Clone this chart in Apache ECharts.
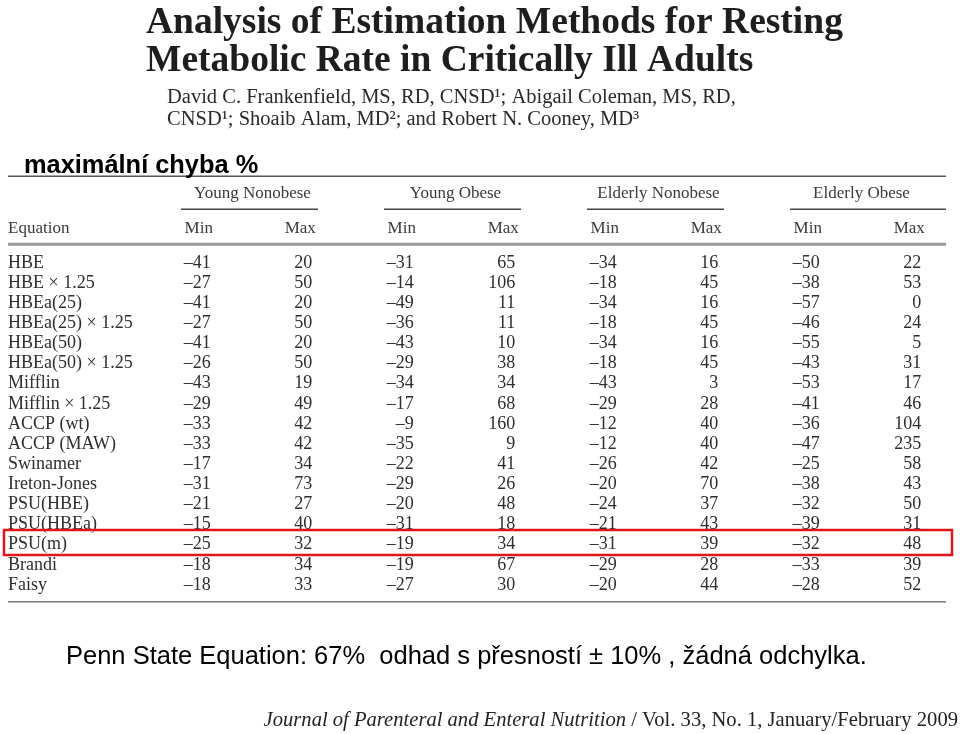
<!DOCTYPE html>
<html>
<head>
<meta charset="utf-8">
<script src="https://cdn.jsdelivr.net/npm/echarts@6/dist/echarts.min.js"></script>
<style>html,body{margin:0;padding:0;background:#fff}#c{width:960px;height:734px}</style>
</head>
<body>
<div id="c"></div>
<script>
// ---- data ----
const equations = ['HBE','HBE × 1.25','HBEa(25)','HBEa(25) × 1.25','HBEa(50)','HBEa(50) × 1.25','Mifflin','Mifflin × 1.25','ACCP (wt)','ACCP (MAW)','Swinamer','Ireton-Jones','PSU(HBE)','PSU(HBEa)','PSU(m)','Brandi','Faisy'];
const groups = ['Young Nonobese','Young Obese','Elderly Nonobese','Elderly Obese'];
const colLabels = ['Min','Max'];
const youngNonobeseMin = [-41,-27,-41,-27,-41,-26,-43,-29,-33,-33,-17,-31,-21,-15,-25,-18,-18];
const youngNonobeseMax = [20,50,20,50,20,50,19,49,42,42,34,73,27,40,32,34,33];
const youngObeseMin = [-31,-14,-49,-36,-43,-29,-34,-17,-9,-35,-22,-29,-20,-31,-19,-19,-27];
const youngObeseMax = [65,106,11,11,10,38,34,68,160,9,41,26,48,18,34,67,30];
const elderlyNonobeseMin = [-34,-18,-34,-18,-34,-18,-43,-29,-12,-12,-26,-20,-24,-21,-31,-29,-20];
const elderlyNonobeseMax = [16,45,16,45,16,45,3,28,40,40,42,70,37,43,39,28,44];
const elderlyObeseMin = [-50,-38,-57,-46,-55,-43,-53,-41,-36,-47,-25,-38,-32,-39,-32,-33,-28];
const elderlyObeseMax = [22,53,0,24,5,31,17,46,104,235,58,43,50,31,48,39,52];
const highlightedEquation = 'PSU(m)';

const titleText = 'Analysis of Estimation Methods for Resting\nMetabolic Rate in Critically Ill Adults';
const authorsLine1 = 'David C. Frankenfield, MS, RD, CNSD¹; Abigail Coleman, MS, RD,';
const authorsLine2 = 'CNSD¹; Shoaib Alam, MD²; and Robert N. Cooney, MD³';
const overlayTitle = 'maximální chyba %';
const footnote = 'Penn State Equation: 67%  odhad s přesností ± 10% , žádná odchylka.';
const journalItalic = 'Journal of Parenteral and Enteral Nutrition';
const journalRoman = ' / Vol. 33, No. 1, January/February 2009';

// ---- build ----
const columns = [youngNonobeseMin, youngNonobeseMax, youngObeseMin, youngObeseMax,
                 elderlyNonobeseMin, elderlyNonobeseMax, elderlyObeseMin, elderlyObeseMax];
const cellData = [];
columns.forEach((col, ci) => col.forEach((v, ri) => cellData.push([ci, ri, v])));
const fmt = v => v < 0 ? '\u2013' + Math.abs(v) : String(v);

const SERIF = '"Liberation Serif", "Times New Roman", serif';
const SANS = '"Liberation Sans", Arial, sans-serif';
const TXT = '#2e2e2e';
const FS = 18;

const chart = echarts.init(document.getElementById('c'), null, {renderer: 'canvas'});

function decoRender(params, api) {
  const tableL = 8, tableR = 946;
  const yAt = r => api.coord([0, r])[1];
  const xAt = c => api.coord([c, 0])[0];
  const children = [];
  const hline = (x1, x2, y, w, color) => children.push({type: 'line', shape: {x1, y1: y, x2, y2: y}, style: {stroke: color, lineWidth: w}});
  // top rule
  hline(tableL, tableR, yAt(-4.27), 1.5, '#555');
  // group headers and underlines
  groups.forEach((g, gi) => {
    children.push({type: 'text', style: {text: g, x: xAt(2 * gi + 0.5) + 3, y: yAt(-3.43), align: 'center', verticalAlign: 'middle', font: FS - 1 + 'px ' + SERIF, fill: '#3a3a3a'}});
    const x1 = xAt(2 * gi - 0.175);
    const x2 = gi === groups.length - 1 ? tableR : xAt(2 * gi + 1.175);
    hline(x1, x2, yAt(-2.63), 1.5, '#444');
  });
  // column headers
  children.push({type: 'text', style: {text: 'Equation', x: tableL, y: yAt(-1.69), align: 'left', verticalAlign: 'middle', font: FS - 1 + 'px ' + SERIF, fill: '#3a3a3a'}});
  for (let c = 0; c < 8; c++) {
    children.push({type: 'text', style: {text: colLabels[c % 2], x: xAt(c), y: yAt(-1.69), align: 'center', verticalAlign: 'middle', font: FS - 1 + 'px ' + SERIF, fill: '#3a3a3a'}});
  }
  hline(tableL, tableR, yAt(-0.89), 3, '#9a9a9a');
  // equation names
  equations.forEach((e, ri) => {
    children.push({type: 'text', style: {text: e, x: tableL, y: yAt(ri) + 1, align: 'left', verticalAlign: 'middle', font: FS + 'px ' + SERIF, fill: TXT}});
  });
  hline(tableL, tableR, yAt(16.89), 1.5, '#777');
  // highlight box
  const hi = equations.indexOf(highlightedEquation);
  const yTop = yAt(hi - 0.68), yBot = yAt(hi + 0.56);
  children.push({type: 'rect', shape: {x: 4, y: yTop, width: 948, height: yBot - yTop}, style: {fill: 'none', stroke: '#e0141b', lineWidth: 2.5}});
  return {type: 'group', children};
}

const option = {
  animation: false,
  backgroundColor: '#fff',
  title: {
    text: titleText, left: 141, top: -1,
    textStyle: {fontFamily: SERIF, fontWeight: 'bold', fontSize: 37.5, lineHeight: 38, color: '#1e1e1e'}
  },
  grid: {left: 148, right: 0, top: 252, bottom: 140, containLabel: false},
  xAxis: {type: 'value', min: -0.5, max: 7.5, show: false},
  yAxis: {type: 'value', min: -0.5, max: 16.5, inverse: true, show: false},
  graphic: [
    {type: 'text', left: 167, top: 87, style: {text: authorsLine1 + '\n' + authorsLine2, font: '20.5px ' + SERIF, lineHeight: 22, fill: '#2a2a2a'}},
    {type: 'text', left: 24, top: 153, z: 10, style: {text: overlayTitle, font: 'bold 25.4px ' + SANS, fill: '#000'}},
    {type: 'text', left: 66, top: 644, style: {text: footnote, font: '25.5px ' + SANS, fill: '#000'}},
    {type: 'text', right: 2, top: 710, style: {
      text: '{i|' + journalItalic + '}{r|' + journalRoman + '}',
      rich: {i: {fontFamily: SERIF, fontStyle: 'italic', fontSize: 20.6, fill: '#222', color: '#222'},
             r: {fontFamily: SERIF, fontSize: 20.6, fill: '#222', color: '#222'}}
    }}
  ],
  series: [
    {
      type: 'custom', coordinateSystem: 'cartesian2d', silent: true,
      data: [[0, 0]], renderItem: decoRender, clip: false
    },
    {
      type: 'custom', coordinateSystem: 'cartesian2d', silent: true, clip: false,
      data: cellData,
      encode: {x: 0, y: 1},
      renderItem: (params, api) => {
        const pt = api.coord([api.value(0), api.value(1)]);
        return {type: 'text', style: {text: fmt(api.value(2)), x: pt[0] + 12, y: pt[1] + 1, align: 'right', verticalAlign: 'middle', font: FS + 'px ' + SERIF, fill: TXT}};
      }
    }
  ]
};
chart.setOption(option);
</script>
</body>
</html>
